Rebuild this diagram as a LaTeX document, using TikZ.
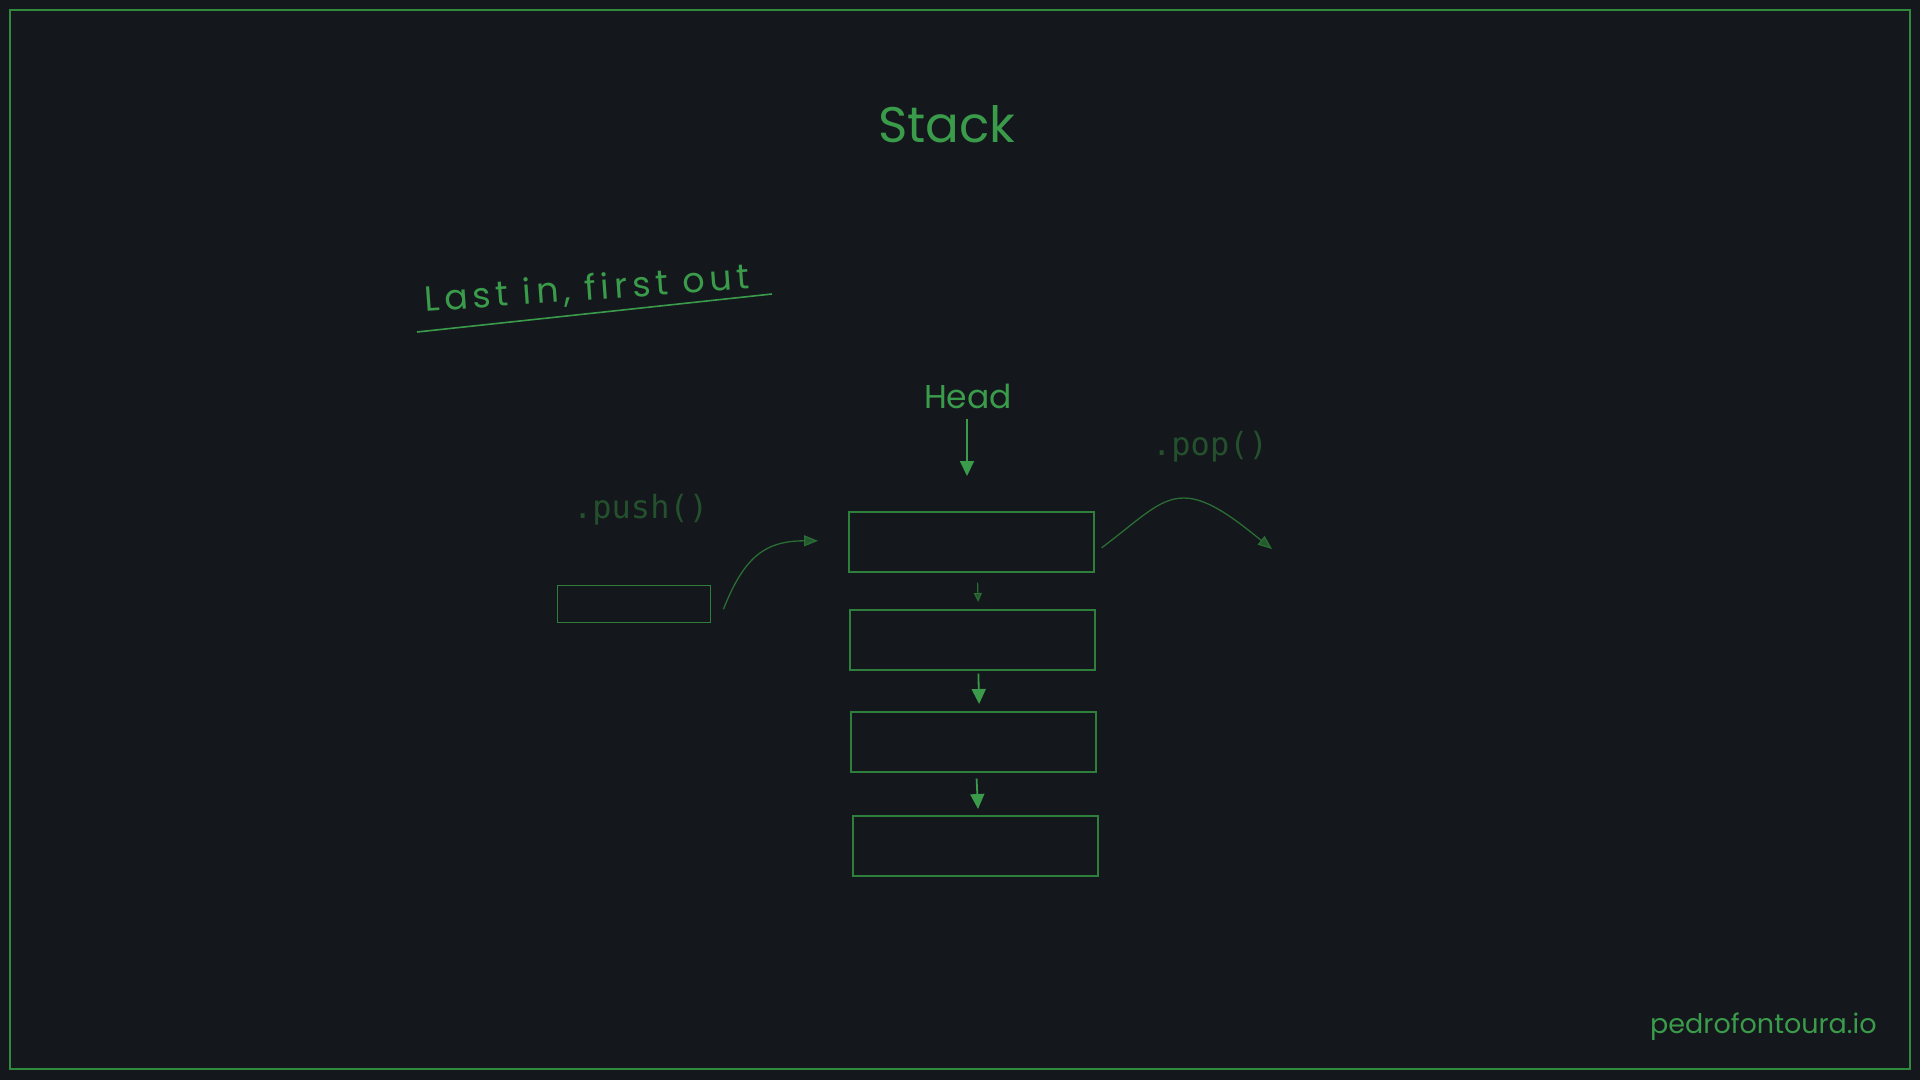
\documentclass[tikz,border=0pt]{standalone}
\usepackage{fontspec}
\setmainfont{Poppins}
\newfontfamily\monofont{DejaVu Sans Mono}
\usetikzlibrary{arrows.meta}
\definecolor{bg}{HTML}{14171B}
\definecolor{gtext}{HTML}{3A9B4B}
\definecolor{gframe}{HTML}{2F8A3E}
\definecolor{gbox}{HTML}{2E7F3C}
\definecolor{gdim}{HTML}{2A6E35}
\definecolor{gmono}{HTML}{24502D}
\tikzset{
  hand/.style={text=gtext, inner sep=0pt},
  mono/.style={text=gmono, inner sep=0pt, font=\monofont\fontsize{32}{38}\selectfont},
  stackbox/.style={draw=gbox, line width=1.6pt, minimum width=245pt, minimum height=60pt, inner sep=0pt, anchor=north west},
  bigarr/.style={draw=gtext, line width=1.8pt, -{Triangle[width=14pt,length=15pt]}},
  smallarr/.style={draw=gdim, line width=1.2pt, -{Triangle[width=8pt,length=9pt,fill=gdim!70!bg]}},
  curvearr/.style={draw=gdim, line width=1.3pt, -{Triangle[width=11pt,length=14pt,fill=gdim!75!bg]}}
}
\begin{document}
\begin{tikzpicture}[x=1pt,y=-1pt]
\fill[bg] (0,0) rectangle (1920,1080);
\useasboundingbox (0,0) rectangle (1920,1080);
\draw[gframe, line width=2pt] (10,10) rectangle (1910,1069);

% title
\node[hand, anchor=base, font=\fontsize{50}{60}\selectfont] (title) at (947,142) {Stack};

% LIFO
\node[hand, anchor=base west, rotate=4.1, font=\fontsize{35}{40}\selectfont\addfontfeature{LetterSpace=14}] (lifo) at (425,312) {Last in, first out};
\draw[gtext, line width=1.6pt] (417,332) -- (772,294);

% head
\node[hand, anchor=base, font=\fontsize{33}{40}\selectfont] (head) at (968,408) {Head};

% boxes
\node[stackbox] (b1) at (848,511) {};
\node[stackbox] (b2) at (849,609) {};
\node[stackbox] (b3) at (850,711) {};
\node[stackbox] (b4) at (852,815) {};
\node[draw=gbox, line width=1.4pt, minimum width=153pt, minimum height=37pt, inner sep=0pt, anchor=north west] (pbox) at (557,585) {};

% arrows
\draw[bigarr, shorten <=10pt, shorten >=35pt] ([xshift=-1pt]head.south) -- ([xshift=-1pt]head.south |- b1.north);
\draw[smallarr, shorten <=10pt, shorten >=7pt] ([xshift=6pt]b1.south) -- ([xshift=6pt]b2.north);
\draw[bigarr, shorten <=3pt, shorten >=7pt] ([xshift=6pt]b2.south) -- ([xshift=6pt]b3.north);
\draw[bigarr, shorten <=6pt, shorten >=6pt] ([xshift=3pt]b3.south) -- ([xshift=3pt]b4.north);

% push
\node[mono, anchor=base west] (push) at (573,518) {.push()};
\coordinate (ps) at ([xshift=12pt,yshift=-5pt]pbox.east);
\coordinate (pe) at ([xshift=-30pt]b1.west);
\draw[curvearr] (ps) .. controls +(20,-50) and +(-55,0) .. ([yshift=1pt]pe |- b1.west);

% pop
\node[mono, anchor=base west] (pop) at (1152,455) {.pop()};
\coordinate (qs) at ([xshift=7pt,yshift=-6pt]b1.east);
\coordinate (qe) at (1272,549);
\draw[curvearr] (qs) .. controls +(40,-30) and +(-25,0) .. (1184,498) .. controls +(25,0) and +(-35,-28) .. (qe);

% signature
\node[hand, anchor=base west, font=\fontsize{27}{32}\selectfont] (sig) at (1650,1033) {pedrofontoura.io};
\end{tikzpicture}
\end{document}
